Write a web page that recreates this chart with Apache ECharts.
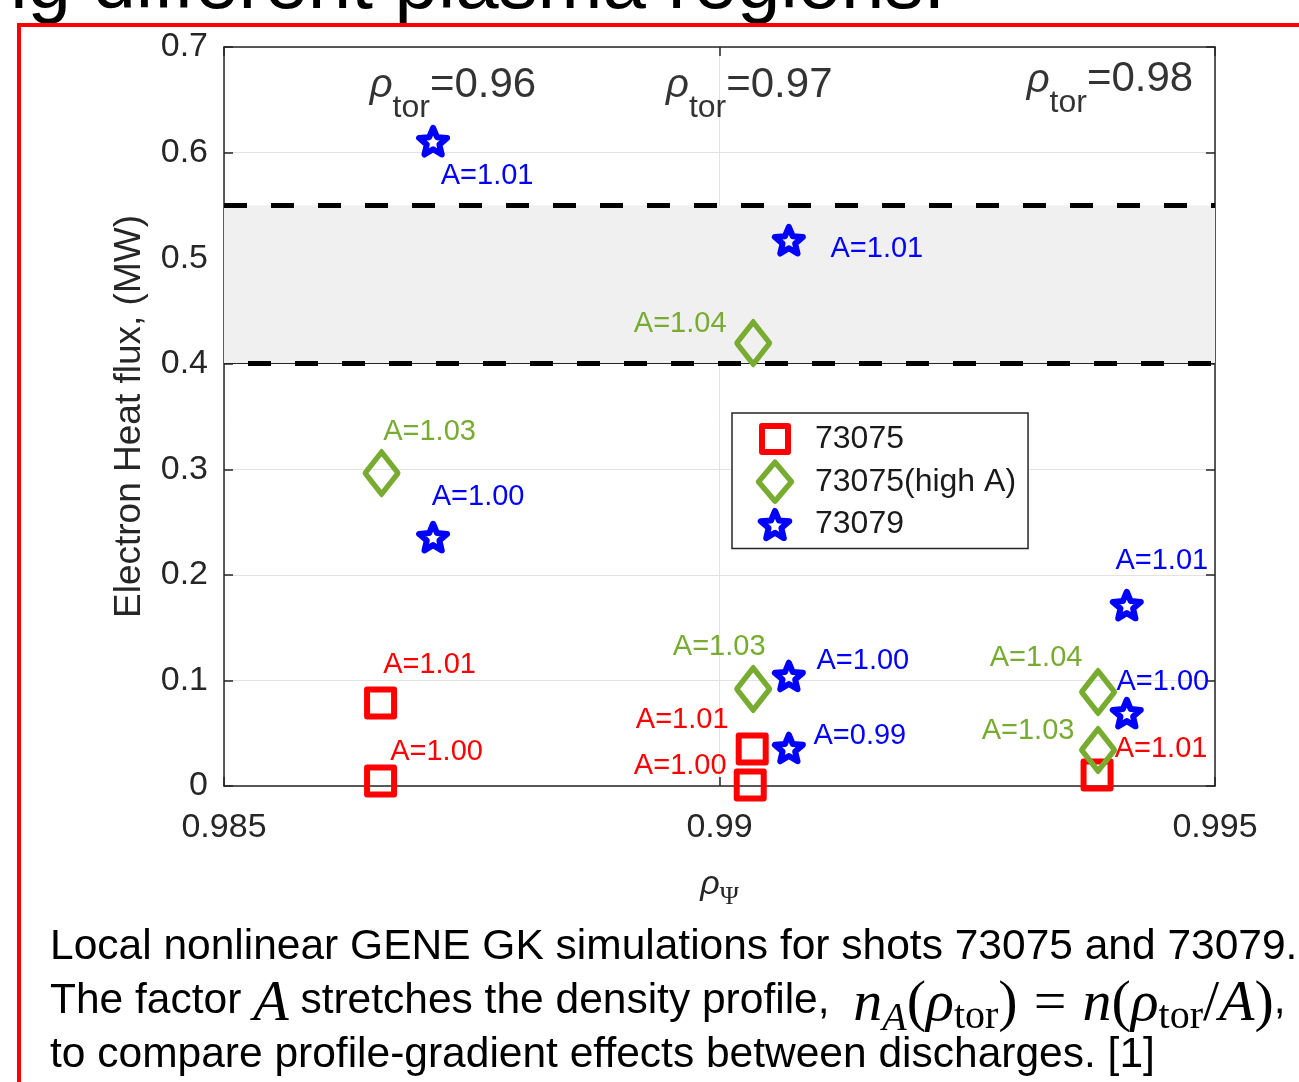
<!DOCTYPE html>
<html>
<head>
<meta charset="utf-8">
<title>Electron heat flux vs rho_psi</title>
<script src="https://cdn.jsdelivr.net/npm/echarts@6/dist/echarts.min.js"></script>
<style>
  html, body { margin: 0; padding: 0; background: #fff; }
  #chart { width: 1299px; height: 1082px; }
</style>
</head>
<body>
<div id="chart"></div>
<script>
const FONT = '"Liberation Sans", Arial, Helvetica, sans-serif';
const SERIF = '"Liberation Serif", "DejaVu Serif", serif';
const AXIS = '#262626';

// axes
const xTickLabels = ['0.985', '0.99', '0.995'];
const yTickLabels = ['0', '0.1', '0.2', '0.3', '0.4', '0.5', '0.6', '0.7'];

// 73075
const redX = [0.98658, 0.98658, 0.99033, 0.99031, 0.99381];
const redY = [0.0786, 0.0047, 0.035, 0.001, 0.0104];
const redA = ['1.01', '1.00', '1.01', '1.00', '1.01'];

// 73075 (high A)
const greenX = [0.98659, 0.99034, 0.99034, 0.99382, 0.99382];
const greenY = [0.2964, 0.4195, 0.0919, 0.089, 0.0341];
const greenA = ['1.03', '1.04', '1.03', '1.04', '1.03'];

// 73079
const blueX = [0.98711, 0.98711, 0.9907, 0.9907, 0.9907, 0.99411, 0.99411];
const blueY = [0.6108, 0.2358, 0.517, 0.1042, 0.036, 0.1714, 0.0691];
const blueA = ['1.01', '1.00', '1.01', '1.00', '0.99', '1.01', '1.00'];

// experimental range (shaded band)
const bandLow = 0.4;
const bandHigh = 0.55;

// rho_tor annotations
const rhoTorX = [0.98731, 0.9903, 0.99394];
const rhoTorY = [0.664, 0.664, 0.669];
const rhoTorText = ['0.96', '0.97', '0.98'];

const legendNames = ['73075', '73075(high A)', '73079'];

// label placement (pixels from marker centre)
const redLabelOffset = [[49, -38], [56, -29], [-70, -29], [-70, -19], [64, -26]];
const greenLabelOffset = [[48, -41], [-73, -19], [-34, -42], [-62, -34], [-70, -19]];
const blueLabelOffset = [[54, 35], [45, -40], [88, 9], [74, -15], [71, -12], [35, -44], [36, -31]];

const STAR = 'path://M50 0 L63.23 31.8 L97.55 34.55 L71.4 56.95 L79.39 90.45 L50 72.5 L20.61 90.45 L28.6 56.95 L2.45 34.55 L36.77 31.8 Z';
// legend icons in a 70x40 box (the lone moves fix the box size)
const ICON_BOX = 'M0 0 M70 40 ';
const squareIcon = 'path://' + ICON_BOX + 'M22 7 L48 7 L48 33 L22 33 Z';
const diamondIcon = 'path://' + ICON_BOX + 'M35 0.5 L51.5 20 L35 39.5 L18.5 20 Z';
const starIcon = 'path://' + ICON_BOX + 'M35 6.44 L38.97 15.98 L49.27 16.8 L41.42 23.53 L43.82 33.58 L35 28.19 L26.18 33.58 L28.58 23.53 L20.74 16.8 L31.03 15.98 Z';

const chart = echarts.init(document.getElementById('chart'));

function points(xs, ys, as, offsets) {
  return xs.map((x, i) => ({
    value: [x, ys[i]],
    name: 'A=' + as[i],
    label: { offset: offsets[i] },
  }));
}

function markerSeries(name, symbol, size, color, data, keepAspect, lineWidth) {
  return {
    name,
    type: 'scatter',
    symbol,
    symbolSize: size,
    symbolKeepAspect: keepAspect,
    clip: false,
    z: 5,
    itemStyle: { color: 'rgba(0,0,0,0)', borderColor: color, borderWidth: lineWidth, borderJoin: 'round', opacity: 1 },
    label: {
      show: true,
      position: 'inside',
      formatter: (p) => p.name,
      color,
      fontSize: 29,
      fontFamily: FONT,
    },
    emphasis: { disabled: true },
    data,
  };
}

function tickFormatter(labels, min, step) {
  return (v) => labels[Math.round((v - min) / step)] ?? '';
}

const boxAxis = {
  type: 'value',
  axisLine: { show: true, onZero: false, lineStyle: { color: AXIS, width: 1.5 } },
  axisTick: { show: true, inside: true, length: 9, lineStyle: { color: AXIS, width: 1.5 } },
  axisLabel: { show: false },
  splitLine: { show: false },
};

chart.setOption({
  animation: false,
  textStyle: { fontFamily: FONT },
  grid: { left: 224, right: 84, top: 47, bottom: 296, containLabel: false },
  xAxis: [
    {
      type: 'value',
      min: 0.985,
      max: 0.995,
      interval: 0.005,
      position: 'bottom',
      axisLine: { show: true, onZero: false, lineStyle: { color: AXIS, width: 1.5 } },
      axisTick: { show: true, inside: true, length: 9, lineStyle: { color: AXIS, width: 1.5 } },
      axisLabel: {
        color: AXIS,
        fontSize: 34,
        fontFamily: FONT,
        margin: 25,
        formatter: tickFormatter(xTickLabels, 0.985, 0.005),
      },
      splitLine: { show: true, lineStyle: { color: '#e2e2e2', width: 1 } },
      name: '{rho|ρ}{sub|Ψ}',
      nameLocation: 'middle',
      nameGap: 82,
      nameTextStyle: {
        rich: {
          rho: { fontSize: 34, fontStyle: 'italic', fontFamily: FONT, color: AXIS, verticalAlign: 'top', lineHeight: 34 },
          sub: { fontSize: 26, fontFamily: SERIF, color: AXIS, verticalAlign: 'top', lineHeight: 26, padding: [16, 0, 0, 0] },
        },
      },
    },
    Object.assign({}, boxAxis, { position: 'top', min: 0.985, max: 0.995, interval: 0.005 }),
  ],
  yAxis: [
    {
      type: 'value',
      min: 0,
      max: 0.7,
      interval: 0.1,
      position: 'left',
      axisLine: { show: true, onZero: false, lineStyle: { color: AXIS, width: 1.5 } },
      axisTick: { show: true, inside: true, length: 9, lineStyle: { color: AXIS, width: 1.5 } },
      axisLabel: {
        color: AXIS,
        fontSize: 34,
        fontFamily: FONT,
        margin: 16,
        formatter: tickFormatter(yTickLabels, 0, 0.1),
      },
      splitLine: { show: true, lineStyle: { color: '#e2e2e2', width: 1 } },
      name: 'Electron Heat flux, (MW)',
      nameLocation: 'middle',
      nameGap: 76,
      nameTextStyle: { fontSize: 37, color: AXIS, fontFamily: FONT },
    },
    Object.assign({}, boxAxis, { position: 'right', min: 0, max: 0.7, interval: 0.1 }),
  ],
  legend: {
    orient: 'vertical',
    left: 732,
    top: 413,
    padding: [3, 12, 1, 5],
    itemGap: -3,
    itemWidth: 70,
    itemHeight: 40,
    backgroundColor: '#fff',
    borderColor: AXIS,
    borderWidth: 1.5,
    selectedMode: false,
    textStyle: { fontSize: 32, lineHeight: 36, color: '#1a1a1a', fontFamily: FONT },
    data: [
      { name: legendNames[0], icon: squareIcon, itemStyle: { color: 'rgba(0,0,0,0)', borderColor: '#ff0000', borderWidth: 6 } },
      { name: legendNames[1], icon: diamondIcon, itemStyle: { color: 'rgba(0,0,0,0)', borderColor: '#77ac30', borderWidth: 5.5 } },
      { name: legendNames[2], icon: starIcon, itemStyle: { color: 'rgba(0,0,0,0)', borderColor: '#0000ff', borderWidth: 6, borderJoin: 'round' } },
    ],
  },
  series: [
    {
      name: 'band',
      type: 'scatter',
      data: [],
      silent: true,
      z: 2,
      markArea: {
        silent: true,
        itemStyle: { color: '#f0f0f0' },
        data: [[{ yAxis: bandLow }, { yAxis: bandHigh }]],
      },
      markLine: {
        silent: true,
        symbol: ['none', 'none'],
        label: { show: false },
        data: [
          { yAxis: bandLow, lineStyle: { type: 'solid', width: 1.2, color: AXIS } },
          { yAxis: bandHigh, lineStyle: { type: [23, 24], dashOffset: 0, width: 5, color: '#000' } },
          { yAxis: bandLow, lineStyle: { type: [23, 24], dashOffset: 23, width: 5, color: '#000' } },
        ],
      },
    },
    markerSeries(legendNames[0], 'rect', 27, '#ff0000', points(redX, redY, redA, redLabelOffset), false, 6),
    markerSeries(legendNames[1], 'diamond', [33, 42], '#77ac30', points(greenX, greenY, greenA, greenLabelOffset), false, 5.5),
    markerSeries(legendNames[2], STAR, 28, '#0000ff', points(blueX, blueY, blueA, blueLabelOffset), true, 6),
    {
      name: 'rhoTor',
      type: 'scatter',
      symbolSize: 1,
      silent: true,
      z: 4,
      itemStyle: { color: 'rgba(0,0,0,0)' },
      data: rhoTorX.map((x, i) => ({ value: [x, rhoTorY[i]], name: rhoTorText[i] })),
      label: {
        show: true,
        position: 'inside',
        formatter: (p) => `{rho|ρ}{sub|tor}{eq|=${p.name}}`,
        rich: {
          rho: { fontSize: 40, fontStyle: 'italic', fontFamily: FONT, color: '#000', verticalAlign: 'top', lineHeight: 40, padding: [2, 0, 0, 0] },
          sub: { fontSize: 32, fontFamily: FONT, color: '#000', verticalAlign: 'top', lineHeight: 32, padding: [28, 0, 0, 0] },
          eq: { fontSize: 42, fontFamily: FONT, color: '#000', verticalAlign: 'top', lineHeight: 42 },
        },
      },
    },
  ],
  graphic: [
    {
      type: 'text',
      x: -16,
      y: -14,
      style: { text: 'ng different plasma regions.', fontSize: 78, fontFamily: FONT, fill: '#000', verticalAlign: 'middle' },
    },
    { type: 'rect', shape: { x: 17, y: 23, width: 1282, height: 4 }, style: { fill: '#ff0000' }, z: 10 },
    { type: 'rect', shape: { x: 17, y: 23, width: 4, height: 1059 }, style: { fill: '#ff0000' }, z: 10 },
    {
      type: 'text',
      x: 50,
      y: 947,
      style: {
        text: 'Local nonlinear GENE GK simulations for shots 73075 and 73079.',
        fontSize: 42.5, fontFamily: FONT, fill: '#000', verticalAlign: 'middle',
      },
    },
    {
      type: 'text',
      x: 50,
      y: 976,
      style: {
        text: '{t|The factor }{mi|A}{t| stretches the density profile, }{mn|n}{sbi|A}{m|(}{mi|ρ}{sb|tor}{m|)}{eq|=}{mi|n}{m|(}{mi|ρ}{sb|tor}{m|/}{mi|A}{m|)}{t|,}',
        fill: '#000',
        verticalAlign: 'top',
        rich: {
          t: { fontSize: 42.5, fontFamily: FONT, lineHeight: 58, padding: [4, 0, 0, 0], verticalAlign: 'top' },
          mi: { fontSize: 58, fontFamily: SERIF, fontStyle: 'italic', lineHeight: 58, verticalAlign: 'top' },
          mn: { fontSize: 58, fontFamily: SERIF, fontStyle: 'italic', lineHeight: 58, padding: [0, 0, 0, 12], verticalAlign: 'top' },
          m: { fontSize: 58, fontFamily: SERIF, lineHeight: 58, verticalAlign: 'top' },
          eq: { fontSize: 58, fontFamily: SERIF, lineHeight: 58, padding: [0, 16, 0, 16], verticalAlign: 'top' },
          sbi: { fontSize: 40, fontFamily: SERIF, fontStyle: 'italic', lineHeight: 40, padding: [23, 0, 0, 0], verticalAlign: 'top' },
          sb: { fontSize: 40, fontFamily: SERIF, lineHeight: 40, padding: [21, 0, 0, 0], verticalAlign: 'top' },
        },
      },
    },
    {
      type: 'text',
      x: 50,
      y: 1055,
      style: {
        text: 'to compare profile-gradient effects between discharges. [1]',
        fontSize: 42.5, fontFamily: FONT, fill: '#000', verticalAlign: 'middle',
      },
    },
  ],
});

window.addEventListener('resize', () => chart.resize());
</script>
</body>
</html>
